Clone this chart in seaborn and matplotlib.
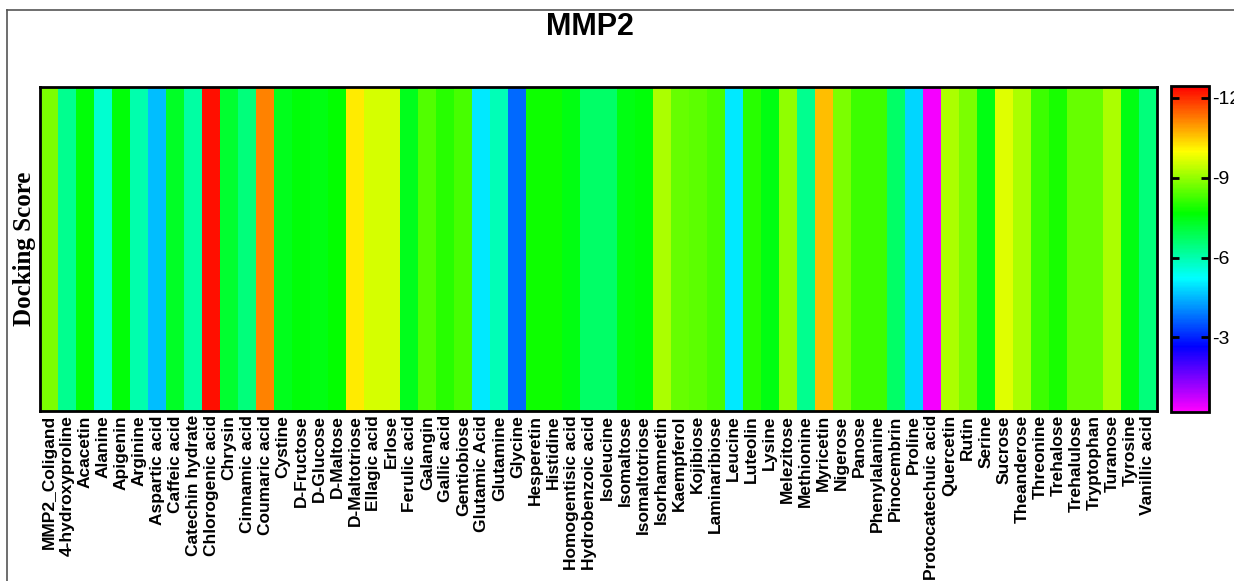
import numpy as np
import pandas as pd
import matplotlib
matplotlib.use("Agg")
import matplotlib.pyplot as plt
from matplotlib.colors import LinearSegmentedColormap
from matplotlib.lines import Line2D
import seaborn as sns

# ligands (x axis)
ligands = [
    "MMP2_Coligand", "4-hydroxyproline", "Acacetin", "Alanine", "Apigenin",
    "Arginine", "Aspartic acid", "Caffeic acid", "Catechin hydrate",
    "Chlorogenic acid", "Chrysin", "Cinnamic acid", "Coumaric acid", "Cystine",
    "D-Fructose", "D-Glucose", "D-Maltose", "D-Maltotriose", "Ellagic acid",
    "Erlose", "Ferulic acid", "Galangin", "Gallic acid", "Gentiobiose",
    "Glutamic Acid", "Glutamine", "Glycine", "Hesperetin", "Histidine",
    "Homogentisic acid", "Hydrobenzoic acid", "Isoleucine", "Isomaltose",
    "Isomaltotriose", "Isorhamnetin", "Kaempferol", "Kojibiose",
    "Laminaribiose", "Leucine", "Luteolin", "Lysine", "Melezitose",
    "Methionine", "Myricetin", "Nigerose", "Panose", "Phenylalanine",
    "Pinocembrin", "Proline", "Protocatechuic acid", "Quercetin", "Rutin",
    "Serine", "Sucrose", "Theanderose", "Threonine", "Trehalose",
    "Trehalulose", "Tryptophan", "Turanose", "Tyrosine", "Vanillic acid",
]

# docking scores
scores = [
    -8.8, -6.3, -7.6, -5.7, -7.6, -6.0, -4.6, -7.3, -6.1, -12.3,
    -7.2, -6.5, -11.2, -7.4, -7.6, -7.5, -7.7, -10.2, -9.6, -9.6,
    -7.4, -8.4, -8.0, -8.3, -5.0, -5.9, -3.7, -7.8, -7.8, -7.5,
    -6.7, -6.7, -7.5, -7.6, -9.2, -8.6, -8.5, -8.3, -5.0, -8.0,
    -7.5, -9.0, -6.3, -10.6, -8.8, -8.2, -8.2, -6.7, -4.8, -0.3,
    -9.2, -8.8, -7.5, -9.7, -9.2, -8.2, -7.9, -8.6, -8.6, -9.2,
    -7.5, -6.5,
]

cbar_ticks = [-12, -9, -6, -3]

df = pd.DataFrame([scores], columns=ligands, index=["Docking Score"])

# rainbow like the original (red = most negative, magenta = ~0)
rainbow = LinearSegmentedColormap.from_list("rainbow_gp", [
    (0.00, "#ff0000"),
    (0.10, "#ff8000"),
    (0.20, "#ffff00"),
    (0.39, "#00ff00"),
    (0.59, "#00ffff"),
    (0.80, "#0000ff"),
    (1.00, "#ff00ff"),
])

plt.rcParams["axes.unicode_minus"] = False
plt.rcParams["font.family"] = ["Liberation Sans", "DejaVu Sans"]

fig = plt.figure(figsize=(12.34, 5.81), dpi=100)
W, H = 1234, 581
ax = fig.add_axes([40 / W, 1 - 411 / H, (1157 - 40) / W, (411 - 87) / H])
cax = fig.add_axes([1171 / W, 1 - 412 / H, (1209 - 1171) / W, (412 - 86) / H])

sns.heatmap(df, ax=ax, cbar_ax=cax, cmap=rainbow, vmin=-12.45, vmax=-0.2,
            xticklabels=True, yticklabels=False)

for sp in ax.spines.values():
    sp.set_visible(True)
    sp.set_linewidth(2)
    sp.set_color("black")

ax.tick_params(axis="x", length=0, pad=3)
for lbl in ax.get_xticklabels():
    lbl.set_rotation(90)
    lbl.set_fontsize(12.5)
    lbl.set_fontweight("bold")
ax.set_xlabel("")
ax.set_ylabel("Docking Score", fontsize=18, fontweight="bold",
              family="Liberation Serif", labelpad=3)
fig.text(590 / W, 1 - 27 / H, "MMP2", fontsize=22, fontweight="bold",
         ha="center", va="center")

cbar = ax.collections[0].colorbar
cbar.set_ticks(cbar_ticks)
cbar.ax.invert_yaxis()
cbar.ax.tick_params(direction="in", length=6, width=2, labelsize=14,
                    right=True, left=True, pad=2)
cbar.ax.set_yticklabels([str(t) for t in cbar_ticks])
cbar.outline.set_visible(True)
cbar.outline.set_linewidth(2)
cbar.outline.set_edgecolor("black")

# thin frame around the page like the screenshot
fig.add_artist(Line2D([7 / W, 1], [1 - 10 / H, 1 - 10 / H], color="#555555", lw=1.2))
fig.add_artist(Line2D([7 / W, 7 / W], [0, 1 - 10 / H], color="#555555", lw=1.2))

fig.savefig("out.png", dpi=100, facecolor="white")
